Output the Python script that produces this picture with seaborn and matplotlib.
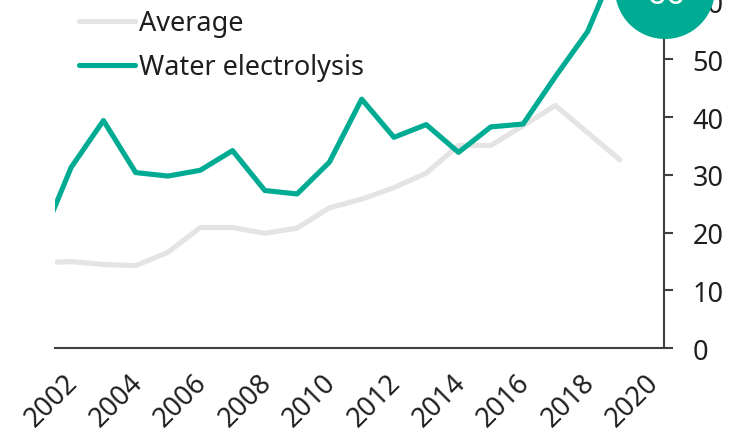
import matplotlib
matplotlib.use("Agg")
import matplotlib.pyplot as plt
from matplotlib.patches import Ellipse
from matplotlib.transforms import ScaledTranslation
import seaborn as sns
import pandas as pd

# ---- data ----
years = list(range(2001, 2020))
water_electrolysis = [17.8, 31.3, 39.4, 30.4, 29.8, 30.8, 34.2, 27.3, 26.7, 32.2,
                      43.1, 36.5, 38.7, 33.9, 38.3, 38.8, 47.0, 54.8, 68.0]
average = [14.8, 15.0, 14.5, 14.3, 16.6, 20.9, 20.9, 19.9, 20.8, 24.3,
           25.8, 27.8, 30.3, 35.1, 35.1, 38.5, 42.0, 37.3, 32.6]
series_names = ["Average", "Water electrolysis"]
xtick_years = list(range(2002, 2021, 2))
ytick_values = [0, 10, 20, 30, 40, 50, 60]
badge_text = "60"

TEAL = "#00AB93"
GREY = "#E4E4E4"
INK = "#1E1E1E"
SPINE = "#404040"

rows = []
for y, a, w in zip(years, average, water_electrolysis):
    rows.append({"year": y + 0.5, "value": a, "series": series_names[0]})
    rows.append({"year": y + 0.5, "value": w, "series": series_names[1]})
df = pd.DataFrame(rows)

sns.set_style("white")
plt.rcParams["font.family"] = ["Noto Sans", "DejaVu Sans"]

W, H, DPI = 743, 431, 100
fig = plt.figure(figsize=(W / DPI, H / DPI), dpi=DPI)
ax = fig.add_axes([55 / W, 1 - 349.3 / H, (664.3 - 55) / W, 349.3 / H])

sns.lineplot(data=df, x="year", y="value", hue="series", hue_order=series_names,
             palette={series_names[0]: GREY, series_names[1]: TEAL},
             linewidth=3.7, ax=ax, legend=True)
for ln in ax.get_lines():
    ln.set_solid_capstyle("round")
    ln.set_solid_joinstyle("round")

ax.set_xlim(2002, 2020.875)
ax.set_ylim(0, 60.43)
ax.set_xlabel("")
ax.set_ylabel("")

ax.spines["left"].set_visible(False)
ax.spines["top"].set_visible(False)
for s in ("bottom", "right"):
    ax.spines[s].set_color(SPINE)
    ax.spines[s].set_linewidth(1.5)

ax.yaxis.tick_right()
ax.set_yticks(ytick_values)
ax.set_xticks(xtick_years)
ax.set_xticklabels([str(y) for y in xtick_years], rotation=45, ha="right",
                   va="top", rotation_mode="anchor")
ax.tick_params(axis="both", colors=SPINE, labelcolor=INK, labelsize=19.5,
               length=6.5, width=1.5, direction="out")
ax.tick_params(axis="y", pad=14)
ax.tick_params(axis="x", pad=8)
shift = ScaledTranslation(9 / DPI, 0, fig.dpi_scale_trans)
for lbl in ax.get_xticklabels():
    lbl.set_transform(lbl.get_transform() + shift)

leg = ax.legend(loc="upper left", bbox_to_anchor=(79 / W, 1 - 10 / H),
                bbox_transform=fig.transFigure, frameon=False, fontsize=19.5,
                handlelength=2.07, handletextpad=0.15, labelspacing=0.6,
                borderpad=0, borderaxespad=0)
for t in leg.get_texts():
    t.set_color(INK)
for h in leg.get_lines():
    h.set_linewidth(3.7)

badge = Ellipse((665 / W, 1 + 10 / H), width=100 / W, height=100 / H,
                transform=fig.transFigure, facecolor=TEAL, edgecolor="none",
                zorder=10, clip_on=False)
fig.patches.append(badge)
fig.text(666 / W, 1 - 4 / H, badge_text, color="white", fontsize=25,
         ha="center", va="baseline", zorder=11)

fig.savefig("out.png", dpi=DPI)
